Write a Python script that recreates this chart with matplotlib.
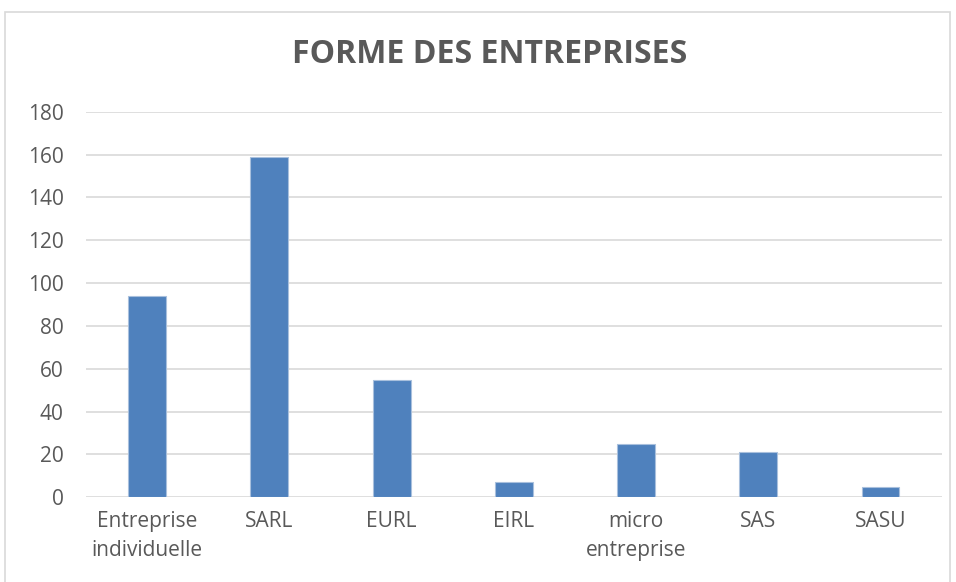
import matplotlib.pyplot as plt
from matplotlib.patches import Rectangle

categories = ["Entreprise\nindividuelle", "SARL", "EURL", "EIRL",
              "micro\nentreprise", "SAS", "SASU"]
values = [94, 159, 55, 7, 25, 21, 5]
yticks = [0, 20, 40, 60, 80, 100, 120, 140, 160, 180]

plt.rcParams['font.family'] = ['Open Sans', 'DejaVu Sans']
text_color = '#595959'

fig = plt.figure(figsize=(9.56, 5.82), dpi=100)
ax = fig.add_axes([0.09, 0.1455, 0.895, 0.6625])

x = range(len(categories))
ax.bar(x, values, width=0.31, color='#4f81bd', edgecolor='#a9c0dd', linewidth=0.8, zorder=3)

ax.set_ylim(0, 180)
ax.set_xlim(-0.5, len(categories) - 0.5)
ax.set_yticks(yticks)
ax.set_xticks(list(x))
ax.set_xticklabels(categories, linespacing=1.5)
ax.tick_params(axis='both', length=0, colors=text_color, labelsize=15)
ax.tick_params(axis='y', pad=16)
ax.tick_params(axis='x', pad=10)
ax.yaxis.grid(True, color='#d9d9d9', linewidth=1.2, zorder=0)
for s in ax.spines.values():
    s.set_visible(False)

fig.text(0.5125, 0.906, "FORME DES ENTREPRISES", ha='center', va='center',
         fontsize=23, fontweight='bold', color=text_color)

# chart frame
fig.patches.append(Rectangle((5 / 956, -0.01), 945 / 956, 1 - 12 / 582 + 0.01,
                             transform=fig.transFigure, fill=False,
                             edgecolor='#d9d9d9', linewidth=1.2))

fig.savefig("out.png", dpi=100)
